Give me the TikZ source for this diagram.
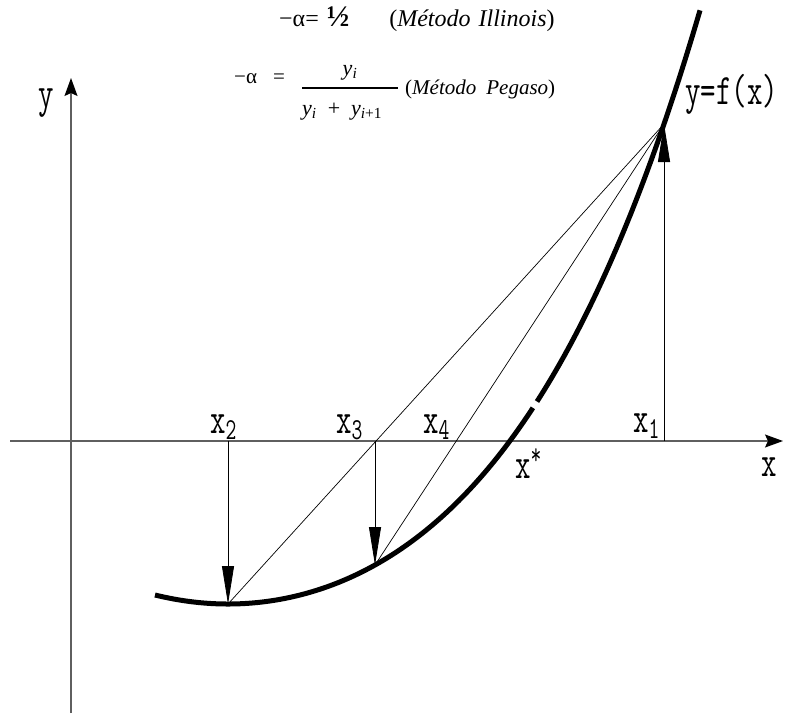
\documentclass[tikz,border=0pt]{standalone}
\usepackage{fontspec}
\usepackage{graphicx}
\setmainfont{Liberation Serif}
\usepackage{tikz}
\usetikzlibrary{arrows.meta,calc}
\definecolor{axe}{RGB}{95,95,95}
\newcommand{\lab}[1]{\scalebox{1}[1.45]{#1}}

\begin{document}
\begin{tikzpicture}[x=1pt,y=-1pt,
    lbl/.style={font=\ttfamily\fontsize{30}{32}\selectfont,inner sep=0pt,anchor=base west},
    form/.style={font=\fontsize{21}{24}\selectfont,inner sep=0pt},
    vec/.style={line width=0.8pt,-{Triangle[length=38pt,width=12pt]}},
    axis/.style={axe,line width=1.2pt,-{Stealth[length=18pt,width=13pt,inset=3pt,black]}},
    sec/.style={line width=0.7pt}]
    \useasboundingbox (0,0) rectangle (786,715);
    % courbe : x = 228+100t ; y = 604-17.124t^2-0.4275t^4 (pixels)
    \draw[axis] (10,441) -- (783,441);
    \draw[axis] (71,713) -- (71,78);
    \draw[line width=5pt,domain=-0.73:3.05,samples=80,smooth]
      plot ({228+100*\x},{604-17.124*\x*\x-0.4275*\x^4});
    \draw[line width=5pt,domain=3.09:4.72,samples=40,smooth]
      plot ({228+100*\x},{604-17.124*\x*\x-0.4275*\x^4});
    % points de la courbe et pieds sur l'axe
    \coordinate (p1) at (664,124);
    \coordinate (p2) at (228,604);
    \coordinate (p3) at (375,565);
    \foreach \n/\px in {1/664,2/228,3/375}{
      \coordinate (q\n) at (\px,441);
      \draw[vec] (q\n) -- (p\n);}
    \draw[sec] (p1) -- (p2);
    \draw[sec] (p1) -- (p3);
    % etiquettes
    \foreach \n/\px/\py in {1/633/432,2/210/433,3/336/433,4/423/433}{
      \node[lbl] (x\n) at (\px,\py) {\lab{x\textsubscript{\n}}};}
    \node[lbl] (xs) at (515,478) {\lab{x\textsuperscript{*}}};
    \node[lbl] (xaxe) at (761,476) {\lab{x}};
    \node[lbl] (yaxe) at (38,107) {\lab{y}};
    \node[lbl] (fx) at (685,104) {\lab{y=f(x)}};
    % formules
    \node[form,font=\fontsize{24}{26}\selectfont,anchor=base west] (illi) at (279,26)
      {−α=\hspace{8pt}{\fontsize{30}{30}\selectfont\textbf{½}}\hspace{40pt}(\textit{Método\hspace{8pt}Illinois})};
    \node[form,anchor=base west] (alfa) at (234,83) {−α\hspace{16pt}=};
    \node[form,font=\fontsize{22}{24}\selectfont,anchor=base] (num) at (350,75)
      {\textit{y}\textsubscript{\textit{i}}};
    \node[form,font=\fontsize{22}{24}\selectfont,anchor=base west] (den) at (302,115)
      {\textit{y}\textsubscript{\textit{i}}\hspace{11pt}+\hspace{11pt}\textit{y}\textsubscript{\textit{i}+1}};
    \draw[line width=2pt] (302,88) -- (398,88);
    \node[form,anchor=base west] (peg) at (405,94) {(\textit{Método\hspace{10pt}Pegaso})};
\end{tikzpicture}
\end{document}
